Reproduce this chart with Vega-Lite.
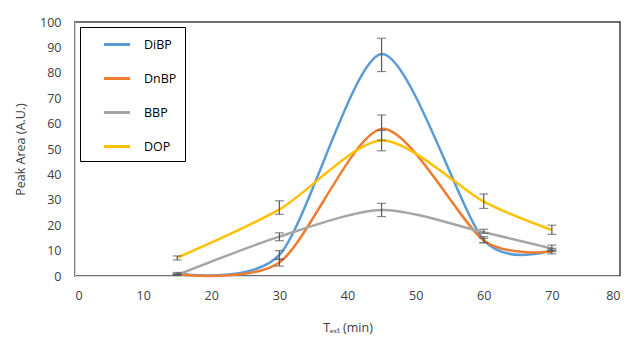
{
  "$schema": "https://vega.github.io/schema/vega-lite/v6.json",
  "width": 545,
  "height": 254,
  "autosize": {"type": "none"},
  "padding": {"left": 75, "top": 22, "right": 8, "bottom": 63},
  "background": "white",
  "config": {
    "font": "Open Sans",
    "view": {"stroke": "#404040", "strokeWidth": 1.5},
    "axis": {
      "domainColor": "#d9d9d9",
      "domainWidth": 1.2,
      "grid": false,
      "ticks": false,
      "labelColor": "#404040",
      "labelFontSize": 12.5,
      "titleColor": "#404040",
      "titleFontSize": 12.5,
      "titleFontWeight": "normal",
      "labelFont": "Open Sans",
      "titleFont": "Open Sans",
      "labelOverlap": false
    }
  },
  "data": {
    "values": [
      {"series": "DiBP", "t": 15, "y": 1, "lo": 0.6, "hi": 1.4},
      {"series": "DiBP", "t": 30, "y": 8.3, "lo": 6.5, "hi": 10},
      {"series": "DiBP", "t": 45, "y": 87.4, "lo": 80.5, "hi": 93.6},
      {"series": "DiBP", "t": 60, "y": 14.2, "lo": 13.1, "hi": 15.5},
      {"series": "DiBP", "t": 70, "y": 10.2, "lo": 9.6, "hi": 10.9},
      {"series": "DnBP", "t": 15, "y": 0.6, "lo": 0.3, "hi": 0.9},
      {"series": "DnBP", "t": 30, "y": 5.3, "lo": 3.9, "hi": 6.7},
      {"series": "DnBP", "t": 45, "y": 57.9, "lo": 53.5, "hi": 63.4},
      {"series": "DnBP", "t": 60, "y": 14.0, "lo": 13.1, "hi": 14.8},
      {"series": "DnBP", "t": 70, "y": 9.6, "lo": 8.7, "hi": 10.3},
      {"series": "BBP", "t": 15, "y": 0.4, "lo": 0.2, "hi": 0.6},
      {"series": "BBP", "t": 30, "y": 15.5, "lo": 13.9, "hi": 17},
      {"series": "BBP", "t": 45, "y": 26, "lo": 23.4, "hi": 28.6},
      {"series": "BBP", "t": 60, "y": 17.2, "lo": 16.8, "hi": 18.4},
      {"series": "BBP", "t": 70, "y": 10.8, "lo": 10.0, "hi": 12.2},
      {"series": "DOP", "t": 15, "y": 7.2, "lo": 6.3, "hi": 7.9},
      {"series": "DOP", "t": 30, "y": 26.2, "lo": 24.3, "hi": 29.6},
      {"series": "DOP", "t": 45, "y": 53.3, "lo": 49.3, "hi": 57.3},
      {"series": "DOP", "t": 60, "y": 29.3, "lo": 26.6, "hi": 32.3},
      {"series": "DOP", "t": 70, "y": 18.1, "lo": 16.4, "hi": 20}
    ]
  },
  "layer": [
    {
      "mark": {"type": "line", "interpolate": "cardinal", "tension": 0.2, "strokeWidth": 2.5},
      "encoding": {
        "x": {
          "field": "t", "type": "quantitative",
          "scale": {"domain": [0, 80], "nice": false},
          "axis": {"values": [0, 10, 20, 30, 40, 50, 60, 70, 80], "labelPadding": 13, "title": "Tₑₓₜ (min)", "titlePadding": 20}
        },
        "y": {
          "field": "y", "type": "quantitative",
          "scale": {"domain": [0, 100], "nice": false},
          "axis": {"values": [0, 10, 20, 30, 40, 50, 60, 70, 80, 90, 100], "labelPadding": 14, "title": "Peak Area (A.U.)", "titlePadding": 12}
        },
        "color": {
          "field": "series", "type": "nominal",
          "scale": {"domain": ["DiBP", "DnBP", "BBP", "DOP"], "range": ["#5b9bd5", "#ed7d31", "#a5a5a5", "#ffc000"]},
          "legend": {
            "orient": "none", "legendX": 5, "legendY": 5,
            "title": null,
            "symbolType": "M0.8,0H4.07",
            "symbolSize": 256,
            "symbolStrokeWidth": 3,
            "labelFontSize": 12.5,
            "labelFont": "Open Sans",
            "labelColor": "#000000",
            "labelOffset": 37,
            "rowPadding": 18,
            "strokeColor": "#000000",
            "padding": 8
          }
        },
        "order": {"field": "t", "type": "quantitative"}
      }
    },
    {
      "mark": {"type": "errorbar", "ticks": {"size": 9, "color": "#595959"}, "color": "#595959", "thickness": 1.2},
      "encoding": {
        "x": {"field": "t", "type": "quantitative", "axis": {"values": [0, 10, 20, 30, 40, 50, 60, 70, 80], "labelPadding": 13, "title": "Tₑₓₜ (min)", "titlePadding": 20}},
        "y": {"field": "lo", "type": "quantitative", "axis": {"values": [0, 10, 20, 30, 40, 50, 60, 70, 80, 90, 100], "labelPadding": 14, "title": "Peak Area (A.U.)", "titlePadding": 12}},
        "y2": {"field": "hi"}
      }
    }
  ]
}
